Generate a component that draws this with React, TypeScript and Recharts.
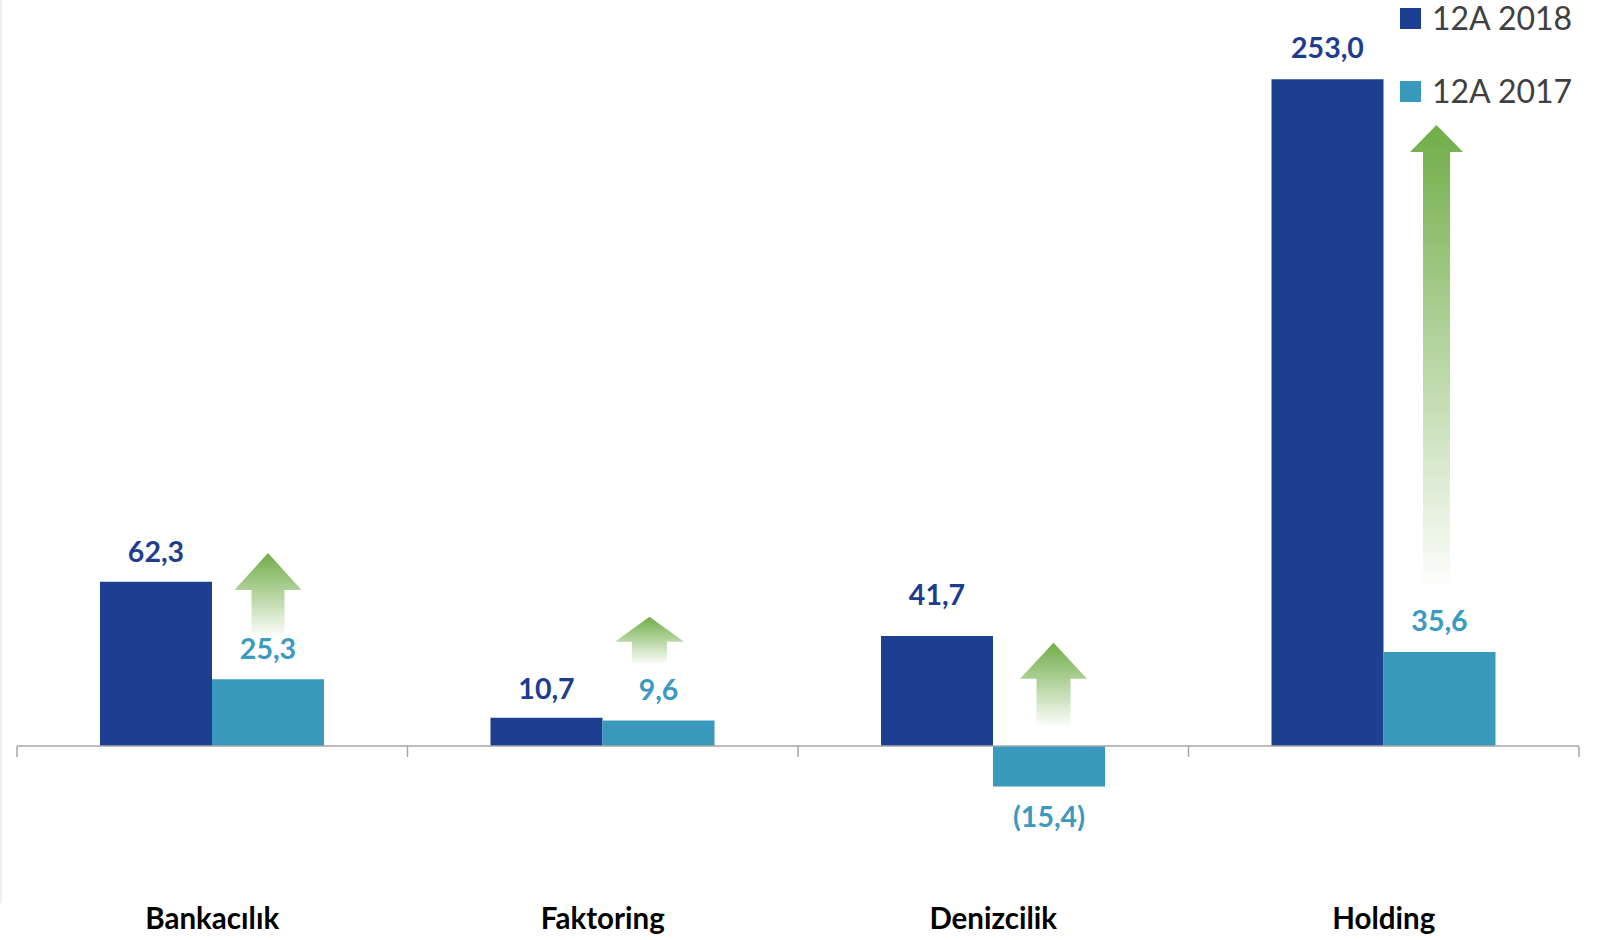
import React from 'react';
import { BarChart, Bar, XAxis, YAxis, ReferenceLine, LabelList, Legend } from 'recharts';

// ---------- data ----------
const categories = ['Bankacılık', 'Faktoring', 'Denizcilik', 'Holding'];
const seriesNames = ['12A 2018', '12A 2017'];
const values2018 = [62.3, 10.7, 41.7, 253.0];
const values2017 = [25.3, 9.6, -15.4, 35.6];
// decorative "increase" arrows: start and end value of each arrow
const arrowFrom = [41.3, 31.1, 7.2, 61.2];
const arrowTo = [73.2, 49.0, 39.1, 235.6];

// ---------- styles ----------
const W = 1616;
const H = 940;
const FONT = "Lato, 'Open Sans', 'DejaVu Sans', sans-serif";
const C2018 = '#1D3E91';
const C2017 = '#3899BD';
const L2018 = '#1F3D8F';
const L2017 = '#3A9AC0';
const AXIS = '#A6A6A6';
const GREEN = '#70AD47';
const LABEL_DY_2018 = [-20, -19, -31, -21];
const LABEL_DY_2017 = [-20, -21, 41, -21];
const ARROW_DX = [56, 47, 60.5, 53];
const ARROW_HEAD_HALF = [33.5, 34.5, 33.5, 26.5];
const ARROW_SHAFT_HALF = [16.5, 17.5, 17, 13.5];
const ARROW_HEAD_H = [37, 25, 36, 27];
const CATEGORY_LABEL_BASELINE = 929;

const data = categories.map((name, i) => ({
  name,
  y2018: values2018[i],
  y2017: values2017[i],
  arrow: [arrowFrom[i], arrowTo[i]],
}));

// category boundary tick marks: start of each band plus end of the last band
const boundaryMarks: { cat: string; pos: 'start' | 'end' }[] = [
  ...categories.map((c) => ({ cat: c, pos: 'start' as const })),
  { cat: categories[categories.length - 1], pos: 'end' as const },
];

const fmt = (v: number) => {
  const s = Math.abs(v).toFixed(1).replace('.', ',');
  return v < 0 ? `(${s})` : s;
};

const makeLabel = (color: string, dys: number[]) => (props: any) => {
  const { x, y, width, height, value, index } = props;
  const v = Number(value);
  const top = Math.min(y, y + height);
  const bottom = Math.max(y, y + height);
  const end = v >= 0 ? top : bottom;
  const dy = dys[index ?? 0] ?? -20;
  return (
    <text
      x={x + width / 2}
      y={end + dy}
      textAnchor="middle"
      fill={color}
      fontFamily={FONT}
      fontWeight={700}
      fontSize={28.5}
    >
      {fmt(v)}
    </text>
  );
};

const ArrowShape = (props: any) => {
  const { x, y, width, height, index } = props;
  const i = index ?? 0;
  const cx = x + width / 2 + ARROW_DX[i];
  const top = Math.min(y, y + height);
  const bottom = Math.max(y, y + height);
  const hh = ARROW_HEAD_HALF[i];
  const sh = ARROW_SHAFT_HALF[i];
  const headBase = top + ARROW_HEAD_H[i];
  const id = `arrowGrad${i}`;
  const d = [
    `M${cx},${top}`,
    `L${cx + hh},${headBase}`,
    `L${cx + sh},${headBase}`,
    `L${cx + sh},${bottom}`,
    `L${cx - sh},${bottom}`,
    `L${cx - sh},${headBase}`,
    `L${cx - hh},${headBase}`,
    'Z',
  ].join(' ');
  return (
    <g>
      <defs>
        <linearGradient id={id} x1="0" y1="0" x2="0" y2="1">
          <stop offset="0" stopColor={GREEN} stopOpacity={1} />
          <stop offset="1" stopColor={GREEN} stopOpacity={0.02} />
        </linearGradient>
      </defs>
      <path d={d} fill={`url(#${id})`} />
    </g>
  );
};

const CategoryTick = (props: any) => {
  const { x, payload } = props;
  return (
    <text
      x={x}
      y={CATEGORY_LABEL_BASELINE}
      textAnchor="middle"
      fill="#000000"
      fontFamily={FONT}
      fontWeight={700}
      fontSize={29.5}
    >
      {payload.value}
    </text>
  );
};

const LegendContent = (props: any) => {
  const items = (props.payload || [])
    .filter((e: any) => seriesNames.includes(e.value))
    .sort((a: any, b: any) => seriesNames.indexOf(a.value) - seriesNames.indexOf(b.value));
  return (
    <svg width={216} height={110} style={{ display: 'block' }}>
      {items.map((e: any, i: number) => (
        <g key={e.value}>
          <rect x={0} y={8 + 73 * i} width={21} height={21} fill={e.color} />
          <text x={32} y={30 + 73 * i} fontFamily={FONT} fontSize={32} fill="#404040">
            {e.value}
          </text>
        </g>
      ))}
    </svg>
  );
};

export default function App() {
  return (
    <div style={{ position: 'absolute', left: 0, top: 0, width: W, height: H, background: '#ffffff' }}>
      <div style={{ position: 'absolute', left: 0, top: 0, width: 2, height: 903, background: '#EFEFEF' }} />
      <BarChart
        width={W}
        height={H}
        data={data}
        margin={{ top: 8, right: 37, bottom: 0, left: 17 }}
        barGap={0}
      >
        <XAxis
          xAxisId="cat"
          dataKey="name"
          axisLine={false}
          tickLine={false}
          tickSize={0}
          tickMargin={0}
          height={36}
          interval={0}
          tick={<CategoryTick />}
        />
        <XAxis xAxisId="arrow" dataKey="name" hide />
        <YAxis hide domain={[-60, 280]} allowDataOverflow />
        <Legend
          layout="vertical"
          align="center"
          verticalAlign="middle"
          wrapperStyle={{ left: 1400, top: 0, width: 216, height: 110 }}
          content={<LegendContent />}
        />
        <Bar xAxisId="cat" dataKey="y2018" name={seriesNames[0]} fill={C2018} barSize={112} isAnimationActive={false}>
          <LabelList dataKey="y2018" content={makeLabel(L2018, LABEL_DY_2018)} />
        </Bar>
        <Bar xAxisId="cat" dataKey="y2017" name={seriesNames[1]} fill={C2017} barSize={112} isAnimationActive={false}>
          <LabelList dataKey="y2017" content={makeLabel(L2017, LABEL_DY_2017)} />
        </Bar>
        <Bar
          xAxisId="arrow"
          dataKey="arrow"
          name="arrow"
          legendType="none"
          barSize={10}
          shape={<ArrowShape />}
          isAnimationActive={false}
        />
        <ReferenceLine xAxisId="cat" y={0} stroke={AXIS} strokeWidth={1.5} />
        {boundaryMarks.map((m, k) => (
          <ReferenceLine
            key={k}
            xAxisId="cat"
            position={m.pos}
            segment={[
              { x: m.cat, y: 0 },
              { x: m.cat, y: -4.2 },
            ]}
            stroke={AXIS}
            strokeWidth={1.5}
          />
        ))}
      </BarChart>
    </div>
  );
}
